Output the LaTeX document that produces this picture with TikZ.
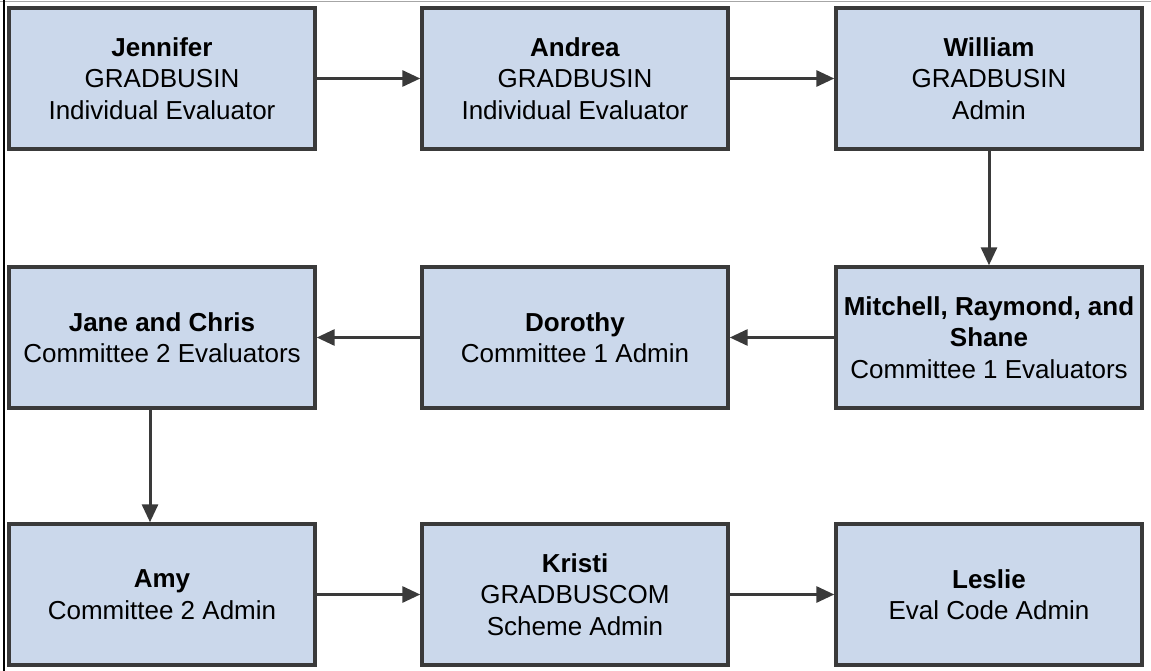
\documentclass[tikz,border=0pt]{standalone}
\usepackage{fontspec}
\setmainfont{Liberation Sans}
\usepackage{xcolor}
\usetikzlibrary{arrows.meta}
\definecolor{stagefill}{HTML}{CBD8EB}
\definecolor{stageline}{HTML}{3A3A3A}

\begin{document}
\begin{tikzpicture}[x=1pt, y=-1pt,
  every node/.style={font=\fontsize{26}{31.5}\selectfont},
  stagebox/.style={draw=stageline, fill=stagefill, line width=3.4pt, minimum width=306, minimum height=141, align=center, inner sep=0pt},
  flow/.style={draw=stageline, line width=3pt, -{Triangle[length=18pt, width=16pt]}}]
  \useasboundingbox (0,0) rectangle (1151,671);
  % frame edges
  \draw[gray!70, line width=1pt] (0,2) -- (1151,2);
  \draw[black, line width=1.2pt] (4,0) -- (4,671);
  % first row
  \node[stagebox] (jennifer) at (162,78.5) {\textbf{Jennifer}\\GRADBUSIN\\Individual Evaluator};
  \node[stagebox] (andrea) at (575,78.5) {\textbf{Andrea}\\GRADBUSIN\\Individual Evaluator};
  \node[stagebox] (william) at (989,78.5) {\textbf{William}\\GRADBUSIN\\Admin};
  % second row
  \node[stagebox] (jane) at (162,337.5) {\textbf{Jane and Chris}\\Committee 2 Evaluators};
  \node[stagebox] (dorothy) at (575,337.5) {\textbf{Dorothy}\\Committee 1 Admin};
  \node[stagebox] (mitchell) at (989,337.5) {\textbf{Mitchell, Raymond, and}\\\textbf{Shane}\\Committee 1 Evaluators};
  % third row
  \node[stagebox] (amy) at (162,594.5) {\textbf{Amy}\\Committee 2 Admin};
  \node[stagebox] (kristi) at (575,594.5) {\textbf{Kristi}\\GRADBUSCOM\\Scheme Admin};
  \node[stagebox] (leslie) at (989,594.5) {\textbf{Leslie}\\Eval Code Admin};
  % connectors
  \draw[flow] (jennifer) -- (andrea);
  \draw[flow] (andrea) -- (william);
  \draw[flow] (william) -- (mitchell);
  \draw[flow] (mitchell) -- (dorothy);
  \draw[flow] (dorothy) -- (jane);
  \draw[flow] ([xshift=-12pt]jane.south) -- ([xshift=-12pt]amy.north);
  \draw[flow] (amy) -- (kristi);
  \draw[flow] (kristi) -- (leslie);
\end{tikzpicture}
\end{document}
